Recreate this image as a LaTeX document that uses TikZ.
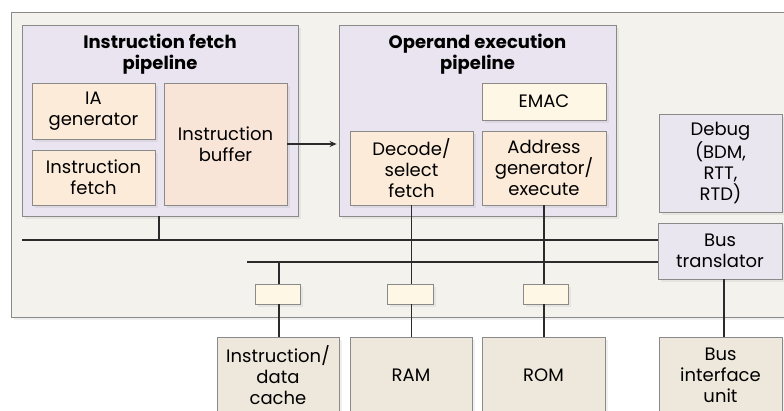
\documentclass[tikz,border=0pt]{standalone}
\usepackage{fontspec}
\setmainfont{Poppins}
\usetikzlibrary{shadows,arrows.meta}
\definecolor{bgc}{HTML}{F4F2EC}
\definecolor{lav}{HTML}{E9E4EF}
\definecolor{peach}{HTML}{FDEBD9}
\definecolor{buf}{HTML}{F9E4D8}
\definecolor{cream}{HTML}{FEF7E6}
\definecolor{botc}{HTML}{EEE8DC}
\definecolor{dbg}{HTML}{EAE6F0}
\definecolor{edge}{HTML}{8A8A8A}
\definecolor{wire}{HTML}{2B2B2B}
\tikzset{
  blk/.style={rectangle, draw=edge, line width=0.8pt, inner sep=0pt, align=center,
    font=\fontsize{18}{21}\selectfont,
    drop shadow={opacity=0.12, shadow xshift=3pt, shadow yshift=-3pt}},
  ttl/.style={inner sep=0pt, align=center, font=\fontsize{18}{21}\selectfont\bfseries},
  wireline/.style={draw=wire, line width=1.4pt},
}
\begin{document}
\begin{tikzpicture}[x=1pt,y=-1pt]
\clip (0,0) rectangle (784,411);
\useasboundingbox (0,0) rectangle (784,411);
% outer background
\node[blk, fill=bgc, minimum width=779pt, minimum height=305pt, anchor=north west] (outer) at (11,12) {};
% instruction fetch pipeline
\node[blk, fill=lav, minimum width=276pt, minimum height=191pt] (fpipe) at (160,120.5) {};
\node[ttl] (ftitle) at (160,54) {Instruction fetch\\pipeline};
\node[blk, fill=peach, minimum width=123pt, minimum height=56pt] (iagen) at (93.5,111) {IA\\generator};
\node[blk, fill=peach, minimum width=123pt, minimum height=55pt] (ifetch) at (93.5,177.5) {Instruction\\fetch};
\node[blk, fill=buf, minimum width=123pt, minimum height=122pt] (ibuf) at (225.5,144) {Instruction\\buffer};
% operand execution pipeline
\node[blk, fill=lav, minimum width=277pt, minimum height=191pt] (opipe) at (477.5,120.5) {};
\node[ttl] (otitle) at (477.5,54) {Operand execution\\pipeline};
\node[blk, fill=cream, minimum width=124pt, minimum height=37pt] (emac) at (544,101.5) {EMAC};
\node[blk, fill=peach, minimum width=123pt, minimum height=74pt] (decode) at (411.5,168) {Decode/\\select\\fetch};
\node[blk, fill=peach, minimum width=124pt, minimum height=74pt] (addr) at (544,168) {Address\\generator/\\execute};
% debug and bus translator
\node[blk, fill=dbg, minimum width=123pt, minimum height=98pt] (debug) at (720.5,163) {Debug\\(BDM,\\RTT,\\RTD)};
\node[blk, fill=dbg, minimum width=124pt, minimum height=56pt] (bustr) at (720,251) {Bus\\translator};
% small buffers
\node[blk, fill=cream, minimum width=45pt, minimum height=20pt] (s1) at (277.5,294) {};
\node[blk, fill=cream, minimum width=46pt, minimum height=20pt] (s2) at (410,294) {};
\node[blk, fill=cream, minimum width=45pt, minimum height=20pt] (s3) at (545.5,294) {};
% bottom blocks
\node[blk, fill=botc, minimum width=122pt, minimum height=76pt] (cache) at (278,375) {Instruction/\\data\\cache};
\node[blk, fill=botc, minimum width=122pt, minimum height=76pt] (ram) at (411,375) {RAM};
\node[blk, fill=botc, minimum width=123pt, minimum height=76pt] (rom) at (543.5,375) {ROM};
\node[blk, fill=botc, minimum width=123pt, minimum height=76pt] (biu) at (720.5,375) {Bus\\interface\\unit};
% buses
\coordinate (b1l) at (22,240);
\coordinate (b2l) at (247,262);
\coordinate (b1j) at (159,240);
\coordinate (b2j) at (279,262);
\draw[wireline] (b1l) -- (b1l -| bustr.west);
\draw[wireline] (b2l) -- (b2l -| bustr.west);
\draw[wireline] (fpipe.south -| b1j) -- (b1j);
\draw[wireline] (b2j) -- (b2j |- s1.north);
\draw[wireline] (s1.south -| b2j) -- (b2j |- cache.north);
\draw[wireline] (decode.south) -- (decode.south |- s2.north);
\draw[wireline] (decode.south |- s2.south) -- (decode.south |- ram.north);
\draw[wireline] (addr.south) -- (addr.south |- s3.north);
\draw[wireline] (addr.south |- s3.south) -- (addr.south |- rom.north);
\coordinate (bt) at (724,279);
\draw[wireline] (bustr.south -| bt) -- (bt |- biu.north);
% arrow
\draw[wireline, line width=1.2pt, -{Stealth[length=7pt,width=6pt]}] (ibuf.east) -- ([xshift=-2pt]opipe.west |- ibuf.east);
\end{tikzpicture}
\end{document}
